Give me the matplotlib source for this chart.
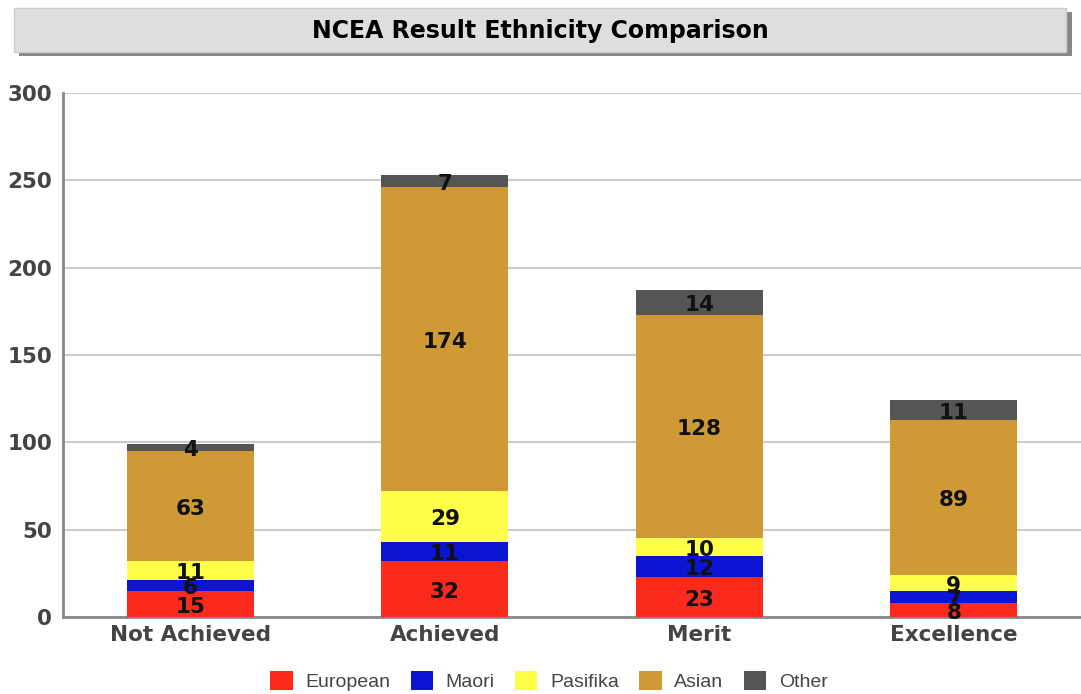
import matplotlib
matplotlib.use("Agg")
import matplotlib.pyplot as plt
from matplotlib.patches import Rectangle
import numpy as np

categories = ["Not Achieved", "Achieved", "Merit", "Excellence"]
series_names = ["European", "Maori", "Pasifika", "Asian", "Other"]
european = [15, 32, 23, 8]
maori = [6, 11, 12, 7]
pasifika = [11, 29, 10, 9]
asian = [63, 174, 128, 89]
other = [4, 7, 14, 11]
y_ticks = [0, 50, 100, 150, 200, 250, 300]

colors = ["#FB2A1C", "#0A14D2", "#FFFF4A", "#CF9A36", "#555555"]
series = [european, maori, pasifika, asian, other]

fig = plt.figure(figsize=(10.81, 6.94), dpi=100)
ax = fig.add_axes([63/1081, 1-617/694, 1-63/1081, (617-93)/694])

x = np.arange(len(categories))
bottom = np.zeros(len(categories))
for name, vals, c in zip(series_names, series, colors):
    vals = np.array(vals, dtype=float)
    ax.bar(x, vals, width=0.5, bottom=bottom, color=c, label=name, zorder=3)
    for xi, v, b in zip(x, vals, bottom):
        ax.annotate(f"{int(v)}", (xi, b + v/2), xytext=(0, -2), textcoords="offset points",
                    ha="center", va="center",
                    fontsize=15.5, fontweight="bold", color="#111111",
                    family="DejaVu Sans", zorder=4)
    bottom += vals

ax.set_xlim(-0.5, len(categories) - 0.5)
ax.set_ylim(0, 300)
ax.set_yticks(y_ticks)
ax.set_yticklabels([str(t) for t in y_ticks], fontsize=15.5, fontweight="bold", color="#444444")
ax.set_xticks(x)
ax.set_xticklabels(categories, fontsize=15.5, fontweight="bold", color="#444444")
ax.tick_params(axis="y", length=0, pad=8)
ax.tick_params(axis="x", length=0, pad=6)
ax.grid(axis="y", color="#cccccc", linewidth=1.5, zorder=0)
for s in ["top", "right"]:
    ax.spines[s].set_visible(False)
for s in ["left", "bottom"]:
    ax.spines[s].set_color("#888888")
    ax.spines[s].set_linewidth(2)

# Title box with shadow
shadow = Rectangle((19/1081, 1-56/694), (1072-19)/1081, (56-12)/694,
                   transform=fig.transFigure, facecolor="#888888", edgecolor="none", zorder=0)
fig.patches.append(shadow)
box = Rectangle((14/1081, 1-52/694), (1066-14)/1081, (52-8)/694,
                transform=fig.transFigure, facecolor="#dedede", edgecolor="#cccccc",
                linewidth=1, zorder=1)
fig.patches.append(box)
fig.text(540/1081, 1-31/694, "NCEA Result Ethnicity Comparison", ha="center", va="center",
         fontsize=17, fontweight="bold", color="#000000", family="DejaVu Sans", zorder=2)

handles, labels = ax.get_legend_handles_labels()
leg = fig.legend(handles, labels, loc="center", bbox_to_anchor=(549/1081, 1-681/694),
                 ncol=5, frameon=False, handlelength=1.15, handleheight=1.15,
                 columnspacing=1.05, handletextpad=0.65,
                 prop={"family": "Liberation Sans", "size": 14})
for t in leg.get_texts():
    t.set_color("#444444")

fig.savefig("out.png", dpi=100)
